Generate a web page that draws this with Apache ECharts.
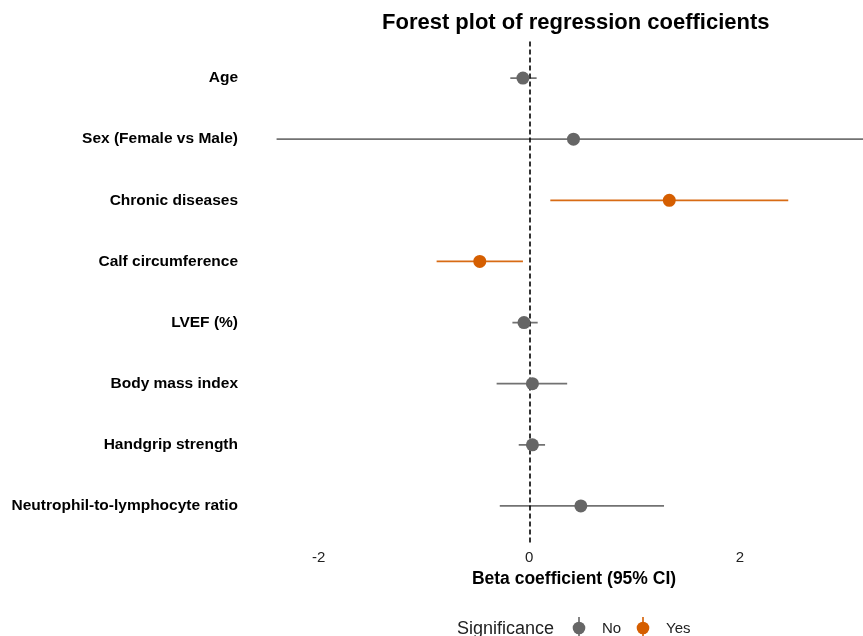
<!DOCTYPE html>
<html><head><meta charset="utf-8">
<script src="https://cdn.jsdelivr.net/npm/echarts@6/dist/echarts.min.js"></script>
<style>html,body{margin:0;padding:0;background:#fff}#c{width:863px;height:636px}</style>
</head><body><div id="c"></div>
<script>
var categories = ["Age","Sex (Female vs Male)","Chronic diseases","Calf circumference","LVEF (%)","Body mass index","Handgrip strength","Neutrophil-to-lymphocyte ratio"];
var beta =  [-0.06, 0.42, 1.33, -0.47, -0.05, 0.03, 0.03, 0.49];
var lower = [-0.18, -2.40, 0.20, -0.88, -0.16, -0.31, -0.10, -0.28];
var upper = [0.07, 3.24, 2.46, -0.06, 0.08, 0.36, 0.15, 1.28];
var significant = ["No","No","Yes","Yes","No","No","No","No"];
var xTicks = [-2, 0, 2];
var legendItems = ["No", "Yes"];

var colors = {No: "#666666", Yes: "#D55E00"};
var FONT = "Liberation Sans, Arial, sans-serif";

var barData = categories.map(function(c, i){ return [lower[i], upper[i], i, significant[i] === "Yes" ? 1 : 0]; });
function pts(s){ var out=[]; categories.forEach(function(c,i){ if(significant[i]===s) out.push([beta[i], i]); }); return out; }

function legendKey(x, col){
  return {type: 'group', children: [
    {type: 'line', shape: {x1: x, y1: 617, x2: x, y2: 640}, style: {stroke: col, lineWidth: 1.6}},
    {type: 'circle', shape: {cx: x, cy: 628, r: 6.3}, style: {fill: col}}
  ]};
}

var chart = echarts.init(document.getElementById('c'), null, {renderer:'canvas'});
chart.setOption({
  animation: false,
  textStyle: {fontFamily: FONT},
  title: {text: "Forest plot of regression coefficients", left: 377, top: 7,
    textStyle: {fontSize: 22, fontWeight: 'bold', color: '#000', fontFamily: FONT}},
  grid: {left: 245, right: 0, top: 41.4, bottom: 93.4, containLabel: false},
  xAxis: {type: 'value', min: -2.7, max: 3.17,
    name: "Beta coefficient (95% CI)", nameLocation: 'middle', nameGap: 27,
    nameTextStyle: {fontSize: 17.5, fontWeight: 'bold', color: '#000', fontFamily: FONT, padding: [0,0,0,40]},
    axisLine: {show: false}, axisTick: {show: false}, splitLine: {show: false},
    axisLabel: {customValues: xTicks, fontSize: 15, color: '#222', margin: 8, fontFamily: FONT}},
  yAxis: {type: 'value', inverse: true, min: -0.6, max: 7.6,
    axisLine: {show: false}, axisTick: {show: false}, splitLine: {show: false},
    axisLabel: {customValues: categories.map(function(c,i){return i;}),
      formatter: function(v){ return categories[Math.round(v)] || ''; },
      padding: [4,0,0,0],
      fontSize: 15.5, fontWeight: 'bold', color: '#000', margin: 7, fontFamily: FONT}},
  graphic: [
    {type: 'text', left: 457, top: 620, style: {text: 'Significance', fontSize: 18, fill: '#222', fontFamily: FONT}},
    legendKey(579, colors.No),
    {type: 'text', left: 602, top: 621, style: {text: legendItems[0], fontSize: 15, fill: '#222', fontFamily: FONT}},
    legendKey(643, colors.Yes),
    {type: 'text', left: 666, top: 621, style: {text: legendItems[1], fontSize: 15, fill: '#222', fontFamily: FONT}}
  ],
  series: [
    {type: 'custom', name: 'ci', clip: true, data: barData, silent: true,
      renderItem: function(params, api){
        var a = api.coord([api.value(0), api.value(2)]);
        var b = api.coord([api.value(1), api.value(2)]);
        var col = api.value(3) ? colors.Yes : colors.No;
        return {type: 'line', shape: {x1: a[0], y1: a[1], x2: b[0], y2: b[1]},
          style: {stroke: col, lineWidth: 1.7, opacity: 0.92}};
      },
      markLine: {silent: true, symbol: 'none', label: {show: false},
        lineStyle: {type: [5,3], color: '#000', width: 1.6},
        data: [{xAxis: 0}]}
    },
    {type: 'scatter', name: 'No', data: pts('No'), symbolSize: 13, itemStyle: {color: colors.No, opacity: 1}, z: 5},
    {type: 'scatter', name: 'Yes', data: pts('Yes'), symbolSize: 13, itemStyle: {color: colors.Yes, opacity: 1}, z: 5}
  ]
});
</script></body></html>
